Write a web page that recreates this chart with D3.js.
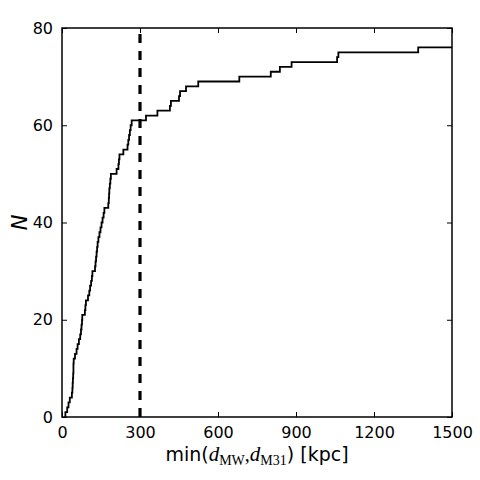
<!DOCTYPE html>
<meta charset="utf-8">
<style>
body { margin: 0; background: #fff; }
text { font-family: "DejaVu Sans", sans-serif; fill: #000; }
.tick text { font-size: 16px; }
</style>
<body>
<svg width="480" height="480"></svg>
</body>
<script src="https://d3js.org/d3.v7.min.js"></script>
<script>

// sorted min distance of each satellite [kpc]
var distances = [13, 20, 25, 30, 38, 40, 41, 42, 43, 44, 44, 45,
  50, 56, 60, 65, 70, 73, 75, 77, 78, 88, 90, 92, 100, 105,
  108, 112, 115, 117, 127, 129, 131, 133, 135, 137, 140, 144, 148, 152,
  156, 160, 163, 178, 180, 181, 182, 184, 186, 188, 210, 217, 219, 221,
  236, 252, 255, 258, 261, 264, 268, 323, 367, 415, 419, 450, 454, 477,
  524, 682, 803, 838, 883, 1058, 1063, 1370];
var cutoff = 300;
var xTicks = [0, 300, 600, 900, 1200, 1500];
var yTicks = [0, 20, 40, 60, 80];

var svg = d3.select("svg"),
    margin = {left: 62, right: 28, top: 28, bottom: 63},
    width = 480 - margin.left - margin.right,
    height = 480 - margin.top - margin.bottom;

var x = d3.scaleLinear().domain([0, 1500]).range([0, width]);
var y = d3.scaleLinear().domain([0, 80]).range([height, 0]);

var g = svg.append("g")
    .attr("transform", "translate(" + margin.left + "," + margin.top + ")");

g.append("clipPath").attr("id", "clip")
  .append("rect").attr("width", width).attr("height", height);

// step points
var pts = [[distances[0], 0]];
distances.forEach(function(d, i) { pts.push([d, i + 1]); });
pts.push([1500, distances.length]);

var line = d3.line()
    .x(function(d) { return x(d[0]); })
    .y(function(d) { return y(d[1]); })
    .curve(d3.curveStepAfter);

g.append("path")
    .datum(pts)
    .attr("clip-path", "url(#clip)")
    .attr("fill", "none")
    .attr("stroke", "#000")
    .attr("stroke-width", 1.8)
    .attr("d", line);

// dashed cut line, drawn from the bottom up
g.append("line")
    .attr("x1", x(cutoff)).attr("x2", x(cutoff))
    .attr("y1", y(0)).attr("y2", y(80))
    .attr("stroke", "#000")
    .attr("stroke-width", 3.2)
    .attr("stroke-dasharray", "9,8");

// axes, ticks pointing inward on all sides
function style(sel) {
  sel.select(".domain").remove();
  sel.selectAll(".tick line").attr("stroke", "#000").attr("stroke-width", 1);
}
g.append("g").attr("transform", "translate(0," + height + ")")
    .call(d3.axisBottom(x).tickValues(xTicks).tickFormat(d3.format("d"))
      .tickSizeInner(-5).tickPadding(10))
    .call(style)
    .selectAll("text").attr("font-size", 16).attr("font-family", "DejaVu Sans");
g.append("g")
    .call(d3.axisTop(x).tickValues(xTicks).tickSizeInner(-5).tickFormat(""))
    .call(style);
g.append("g")
    .call(d3.axisLeft(y).tickValues(yTicks).tickSizeInner(-5).tickPadding(9))
    .call(style)
    .selectAll("text").attr("font-size", 16).attr("font-family", "DejaVu Sans");
g.append("g").attr("transform", "translate(" + width + ",0)")
    .call(d3.axisRight(y).tickValues(yTicks).tickSizeInner(-5).tickFormat(""))
    .call(style);

g.append("rect")
    .attr("width", width).attr("height", height)
    .attr("fill", "none").attr("stroke", "#000").attr("stroke-width", 1.5);

// axis labels
var xl = svg.append("text")
    .attr("x", margin.left + width / 2)
    .attr("y", 461)
    .attr("text-anchor", "middle")
    .attr("font-size", 19);
xl.append("tspan").text("min(");
xl.append("tspan").attr("font-family", "Liberation Serif").attr("font-style", "italic").attr("font-size", 21).text("d");
xl.append("tspan").attr("font-family", "Liberation Serif").attr("font-size", 14).attr("dy", 4).text("MW");
xl.append("tspan").attr("font-family", "Liberation Serif").attr("font-size", 20).attr("dy", -4).text(",");
xl.append("tspan").attr("font-family", "Liberation Serif").attr("font-style", "italic").attr("font-size", 21).text("d");
xl.append("tspan").attr("font-family", "Liberation Serif").attr("font-size", 14).attr("dy", 4).text("M31");
xl.append("tspan").attr("dy", -4).text(") [kpc]");

svg.append("text")
    .attr("transform", "translate(27," + (margin.top + height / 2) + ") rotate(-90)")
    .attr("text-anchor", "middle")
    .attr("font-family", "Liberation Serif")
    .attr("font-style", "italic")
    .attr("font-size", 21)
    .text("N");

</script>
</html>
